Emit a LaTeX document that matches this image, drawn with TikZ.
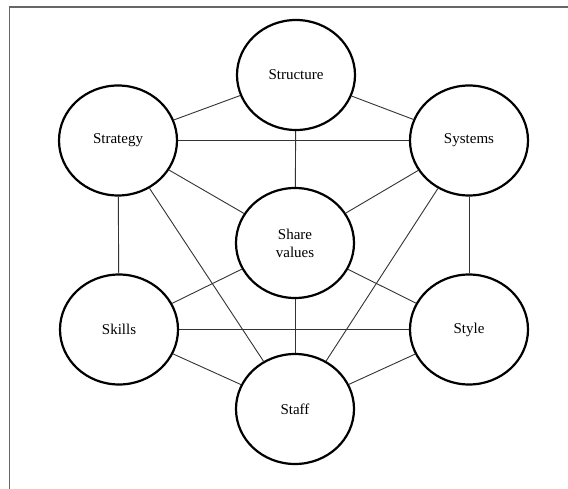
\documentclass[tikz,border=0pt]{standalone}
\usepackage{fontspec}
\setmainfont{Liberation Serif}
\usetikzlibrary{shapes.geometric}
\begin{document}
\begin{tikzpicture}[x=1pt,y=-1pt,
  sbox/.style={ellipse,draw=black,line width=2.2pt,minimum width=118pt,minimum height=110pt,
    inner sep=0pt,align=center,font=\fontsize{15}{18}\selectfont,fill=white},
  link/.style={draw=black!80,line width=0.9pt},
  frame/.style={draw=black!60,line width=1.5pt}]
\useasboundingbox (0,0) rectangle (568,489);
\fill[white] (0,0) rectangle (568,489);
% outer frame, only its left and top sides lie inside the page
\draw[frame] (9.5,489) -- (9.5,7) -- (568,7);

% the seven elements
\node[sbox] (structure) at (296,75)  {Structure};
\node[sbox] (strategy)  at (118,140.5) {Strategy};
\node[sbox] (systems)   at (469,140.5) {Systems};
\node[sbox] (share)     at (295,243) {Share\\values};
\node[sbox] (skills)    at (119,329.5) {Skills};
\node[sbox] (style)     at (469,329.5) {Style};
\node[sbox] (staff)     at (295,409) {Staff};

% links between the elements
\draw[link] (structure) -- (strategy);
\draw[link] (structure) -- (systems);
\draw[link] (structure) -- (share);
\draw[link] (strategy) -- (systems);
\draw[link] (strategy) -- (share);
\draw[link] (strategy) -- (skills);
\draw[link] (strategy) -- (staff);
\draw[link] (systems) -- (share);
\draw[link] (systems) -- (style);
\draw[link] (systems) -- (staff);
\draw[link] (share) -- (skills);
\draw[link] (share) -- (style);
\draw[link] (share) -- (staff);
\draw[link] (skills) -- (style);
\draw[link] (skills) -- (staff);
\draw[link] (style) -- (staff);
\end{tikzpicture}
\end{document}
